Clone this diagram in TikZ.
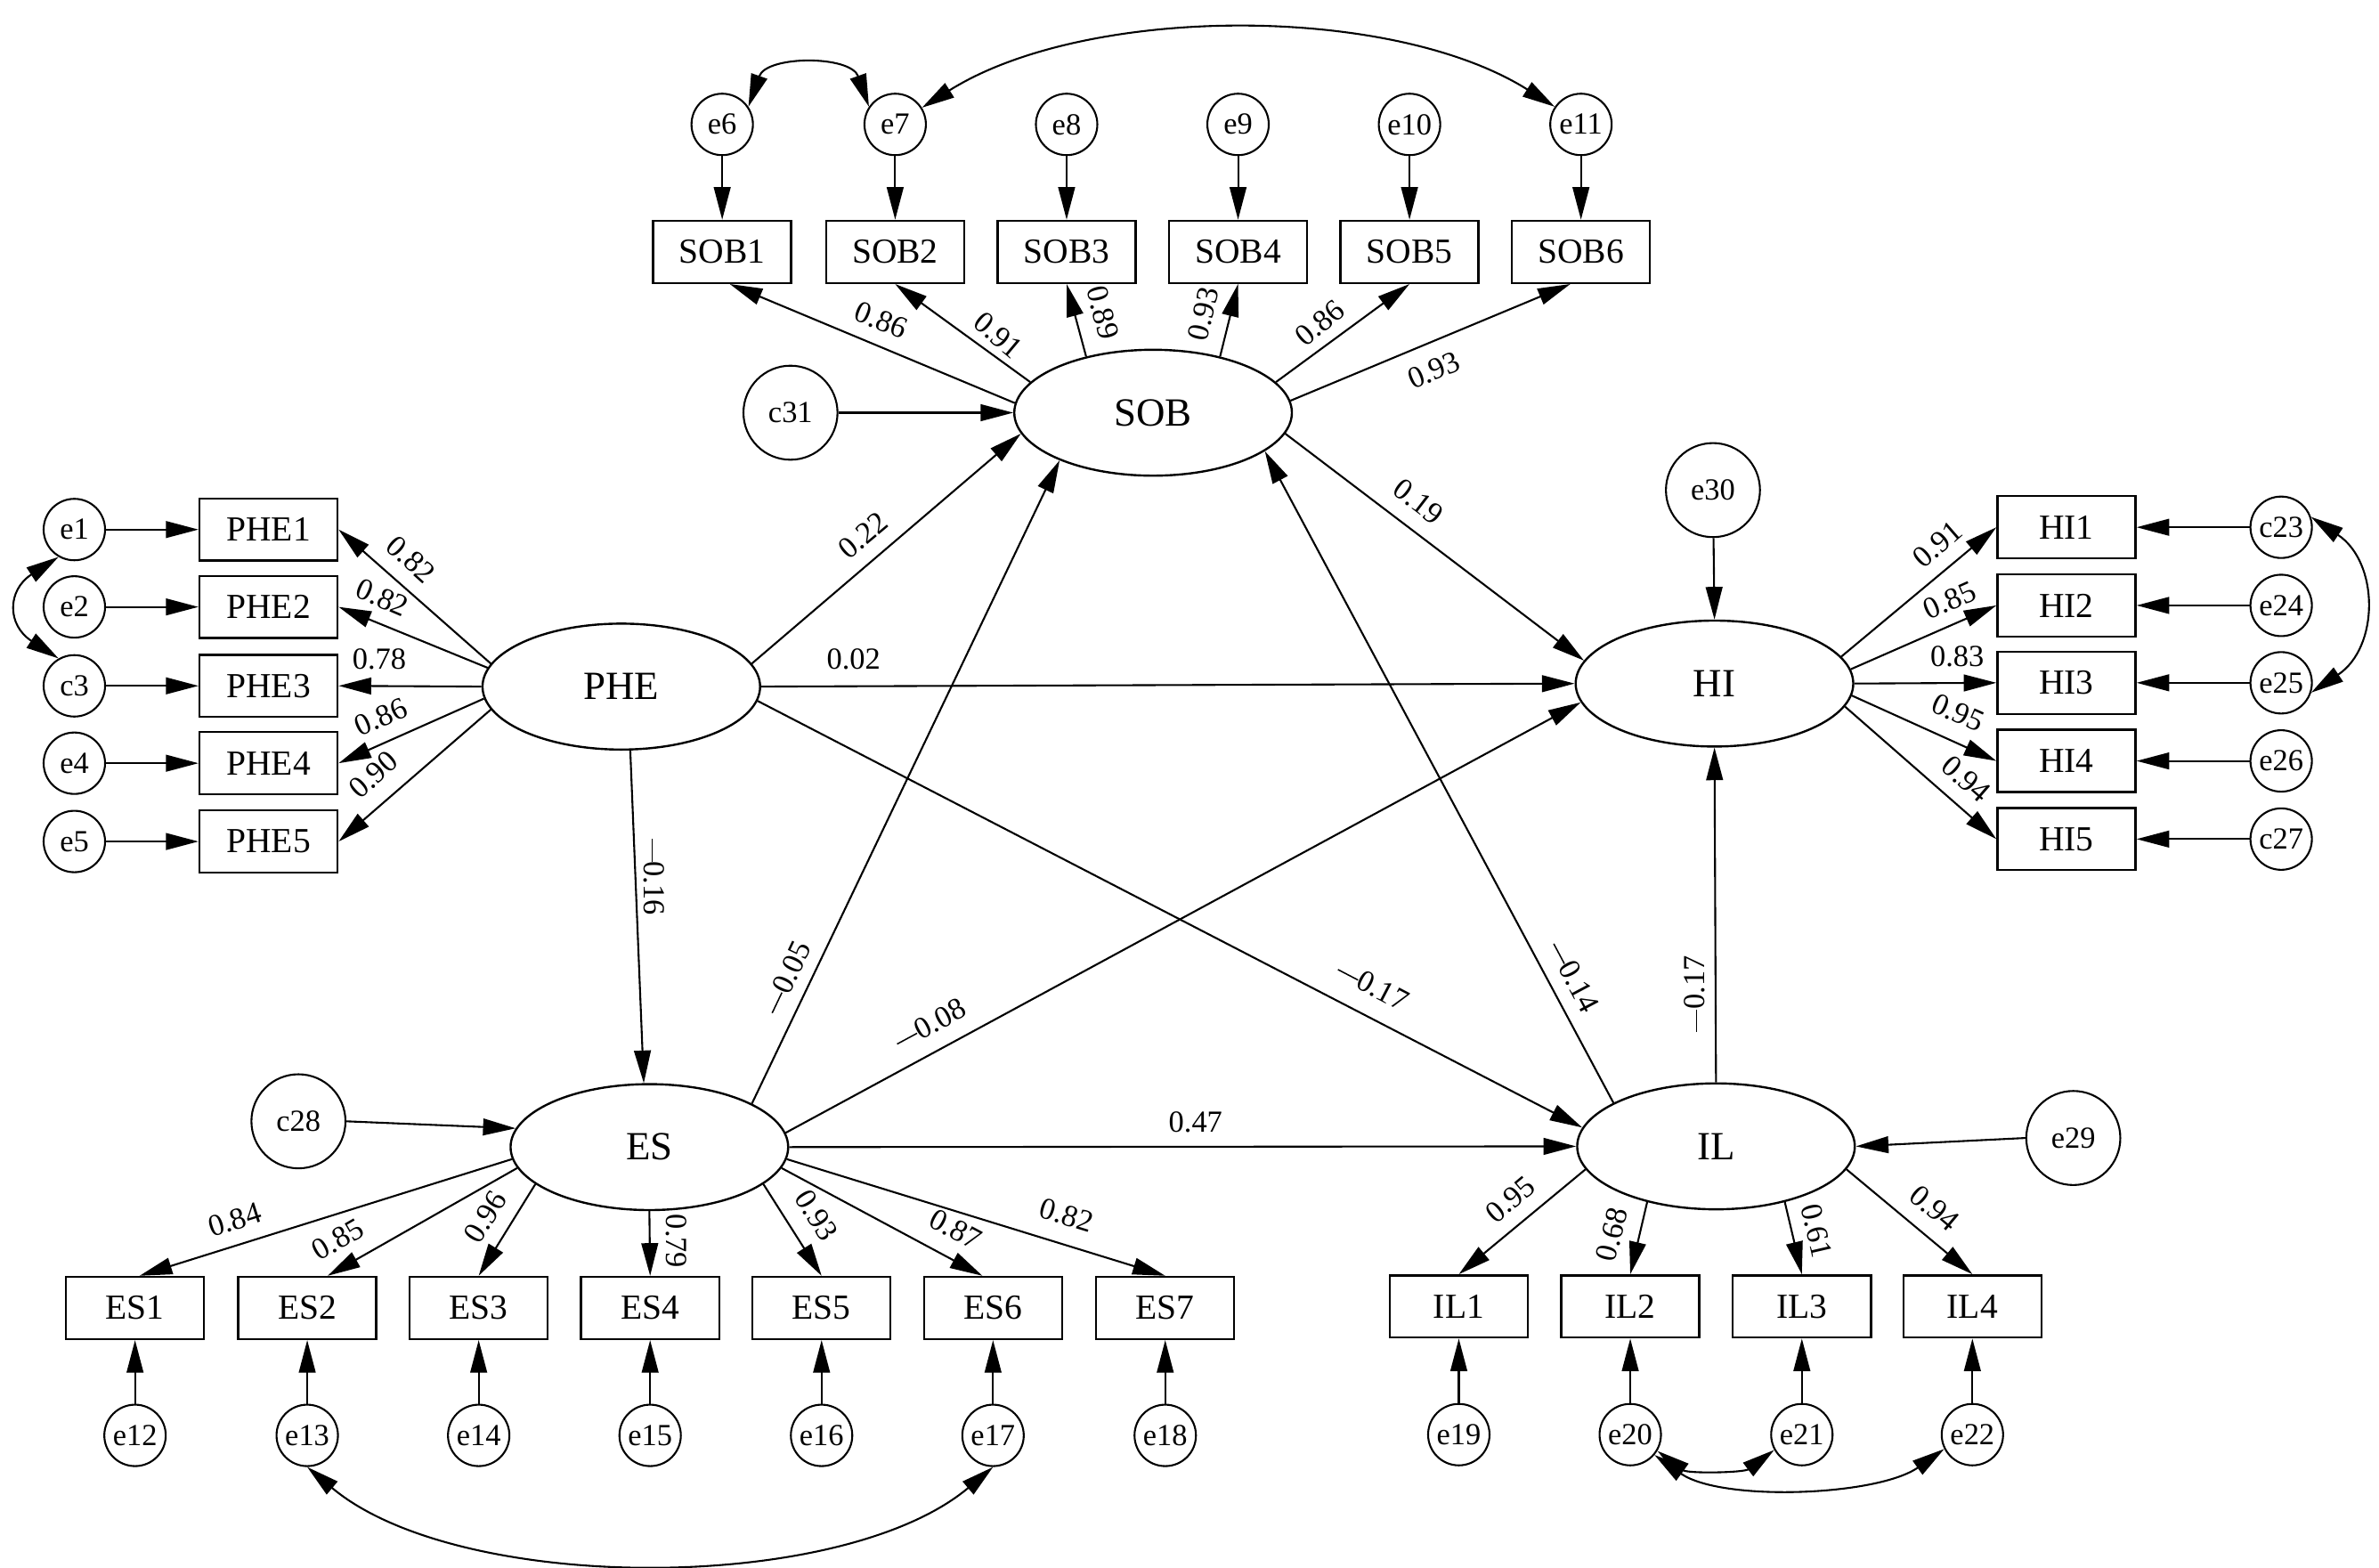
\documentclass[tikz,border=0pt]{standalone}
\usepackage{fontspec}
\setmainfont{Liberation Serif}
\usetikzlibrary{arrows.meta,shapes.geometric}
\newcommand{\mns}{\rule[0.24em]{0.74em}{0.045em}}
\begin{document}
\begin{tikzpicture}[x=0.02cm,y=0.02cm,
  lat/.style={ellipse,draw,line width=0.8pt,minimum width=3.66cm,minimum height=1.66cm,inner sep=0pt,font=\fontsize{15}{15}\selectfont},
  obs/.style={rectangle,draw,line width=0.8pt,minimum width=1.82cm,minimum height=0.82cm,inner sep=0pt,font=\fontsize{13.2}{13.2}\selectfont},
  err/.style={circle,draw,line width=0.7pt,minimum size=0.81cm,inner sep=0pt,font=\fontsize{11.5}{11.5}\selectfont},
  res/.style={circle,draw,line width=0.7pt,minimum size=1.24cm,inner sep=0pt,font=\fontsize{11.5}{11.5}\selectfont},
  lbl/.style={inner sep=0pt,font=\fontsize{11.5}{11.5}\selectfont},
  pth/.style={-{Triangle[length=4.3mm,width=2.2mm]},line width=0.7pt},
  cov/.style={{Triangle[length=4.3mm,width=2.2mm]}-{Triangle[length=4.3mm,width=2.2mm]},line width=0.7pt}
]
\useasboundingbox (0,0) rectangle (1568,-1033.4);

% latent variables
\node[lat] (SOB) at (760,-272) {SOB};
\node[lat] (PHE) at (409.5,-452.5) {PHE};
\node[lat] (HI) at (1130,-450.5) {HI};
\node[lat] (ES) at (428,-756) {ES};
\node[lat] (IL) at (1131,-755.5) {IL};

% residuals of latents
\node[res] (c31) at (521,-272) {c31};
\node[res] (e30) at (1129,-323) {e30};
\node[res] (c28) at (196.7,-739) {c28};
\node[res] (e29) at (1366.5,-750) {e29};

% SOB indicators
\foreach \i/\e/\x in {1/6/476,2/7/590,3/8/703,4/9/816,5/10/929,6/11/1042}{
  \node[obs] (SOB\i) at (\x,-166) {SOB\i};
  \node[err] (e\e) at (\x,-82) {e\e};
  \draw[pth] (e\e) -- (SOB\i);
}
% PHE indicators
\foreach \i/\y/\e in {1/-349/e1,2/-400/e2,3/-452/c3,4/-503/e4,5/-554.6/e5}{
  \node[obs] (PHE\i) at (177,\y) {PHE\i};
  \node[err] (\e) at (49,\y) {\e};
  \draw[pth] (\e) -- (PHE\i);
}
% HI indicators
\foreach \i/\y/\e in {1/-347.5/c23,2/-399/e24,3/-450/e25,4/-501.5/e26,5/-553/c27}{
  \node[obs] (HI\i) at (1362,\y) {HI\i};
  \node[err] (\e) at (1503.5,\y) {\e};
  \draw[pth] (\e) -- (HI\i);
}
% ES indicators
\foreach \i/\x/\e in {1/89/e12,2/202.5/e13,3/315.5/e14,4/428.5/e15,5/541.5/e16,6/654.5/e17,7/768/e18}{
  \node[obs] (ES\i) at (\x,-862) {ES\i};
  \node[err] (\e) at (\x,-946) {\e};
  \draw[pth] (\e) -- (ES\i);
}
% IL indicators
\foreach \i/\x/\e in {1/961.5/e19,2/1074.5/e20,3/1187.6/e21,4/1300/e22}{
  \node[obs] (IL\i) at (\x,-861) {IL\i};
  \node[err] (\e) at (\x,-945.5) {\e};
  \draw[pth] (\e) -- (IL\i);
}

% loadings SOB
\draw[pth] (SOB.176) -- ([xshift=0.1cm]SOB1.south);
\draw[pth] (SOB.166) -- (SOB2.south);
\draw[pth] (SOB.140) -- (SOB3.south);
\draw[pth] (SOB.40) -- (SOB4.south);
\draw[pth] (SOB.14) -- (SOB5.south);
\draw[pth] (SOB.5.5) -- ([xshift=-0.14cm]SOB6.south);
% loadings PHE
\draw[pth] (PHE.170) -- (PHE1.east);
\draw[pth] (PHE.172) -- (PHE2.east);
\draw[pth] (PHE.180) -- (PHE3.east);
\draw[pth] (PHE.185) -- (PHE4.east);
\draw[pth] (PHE.190) -- (PHE5.east);
% loadings HI
\draw[pth] (HI.12) -- (HI1.west);
\draw[pth] (HI.6.3) -- (HI2.west);
\draw[pth] (HI.0) -- (HI3.west);
\draw[pth] (HI.-5.4) -- (HI4.west);
\draw[pth] (HI.-10.2) -- (HI5.west);
% loadings ES
\draw[pth] (ES.185) -- ([xshift=0.06cm]ES1.north);
\draw[pth] (ES.189.6) -- ([xshift=0.27cm]ES2.north);
\draw[pth] (ES.198.4) -- (ES3.north);
\draw[pth] (ES.270) -- (ES4.north);
\draw[pth] (ES.-18) -- (ES5.north);
\draw[pth] (ES.-9.4) -- ([xshift=-0.14cm]ES6.north);
\draw[pth] (ES.-5) -- (ES7.north);
% loadings IL
\draw[pth] (IL.190) -- (IL1.north);
\draw[pth] (IL.219.8) -- (IL2.north);
\draw[pth] (IL.-39.6) -- (IL3.north);
\draw[pth] (IL.-10) -- (IL4.north);

% structural paths
\draw[pth] (c31) -- (SOB.west);
\draw[pth] (e30) -- (HI.north);
\draw[pth] (c28.east) -- (ES.172.7);
\draw[pth] (e29.west) -- (IL.east);
\draw[pth] (PHE.10.7) -- (SOB.189.5);
\draw[pth] (PHE.east) -- (HI.west);
\draw[pth] (PHE.-6) -- (IL.172.8);
\draw[pth] (PHE.-82) -- (ES.95);
\draw[pth] (ES.23.4) -- (SOB.207);
\draw[pth] (ES.6.7) -- (HI.188.5);
\draw[pth] (ES.east) -- (IL.west);
\draw[pth] (IL.157.4) -- (SOB.-19);
\draw[pth] (IL.north) -- (HI.south);
\draw[pth] (SOB.-9.6) -- (HI.170.7);

% covariances
\draw[cov] (e6.34) .. controls +(12,34) and +(-12,34) .. (e7.146);
\draw[cov] (e7.32) .. controls +(108,68) and +(-108,68) .. (e11.146);
\draw[cov] (e1.240) .. controls +(-34,-22) and +(-34,22) .. (c3.120);
\draw[cov] (c23.19) .. controls +(45,-30) and +(45,30) .. (e25.-18);
\draw[cov] (e13.south) .. controls +(100,-84) and +(-100,-84) .. (e17.south);
\draw[cov] (e20.-31) .. controls +(20,-15) and +(-20,-15) .. (e21.209);
\draw[cov] (e20.-40) .. controls +(44,-31) and +(-44,-31) .. (e22.207);

% labels SOB
\node[lbl,rotate=-22] (l1) at (581,-211) {0.86};
\node[lbl,rotate=-40] (l2) at (658,-221) {0.91};
\node[lbl,rotate=-76] (l3) at (727,-206) {0.89};
\node[lbl,rotate=77] (l4) at (793,-207) {0.93};
\node[lbl,rotate=40] (l5) at (870,-213) {0.86};
\node[lbl,rotate=23] (l6) at (945,-244) {0.93};
% labels PHE
\node[lbl,rotate=-42] (l7) at (271,-368.7) {0.82};
\node[lbl,rotate=-23] (l8) at (252,-394) {0.82};
\node[lbl] (l9) at (250,-434.3) {0.78};
\node[lbl,rotate=24] (l10) at (251,-472.4) {0.86};
\node[lbl,rotate=42] (l11) at (246,-510.6) {0.90};
% labels HI
\node[lbl,rotate=41] (l12) at (1277,-358.6) {0.91};
\node[lbl,rotate=24] (l13) at (1285,-395.6) {0.85};
\node[lbl] (l14) at (1290,-432.5) {0.83};
\node[lbl,rotate=-24] (l15) at (1290.6,-469.7) {0.95};
\node[lbl,rotate=-41] (l16) at (1296,-513.5) {0.94};
% labels ES
\node[lbl,rotate=17.5] (l17) at (154.7,-804) {0.84};
\node[lbl,rotate=30] (l18) at (222.6,-816.8) {0.85};
\node[lbl,rotate=58] (l19) at (320,-802) {0.96};
\node[lbl,rotate=-90] (l20) at (446,-818) {0.79};
\node[lbl,rotate=-58] (l21) at (538,-801) {0.93};
\node[lbl,rotate=-28] (l22) at (629.8,-810) {0.87};
\node[lbl,rotate=-17] (l23) at (703,-800.8) {0.82};
% labels IL
\node[lbl,rotate=40] (l24) at (995.3,-790.5) {0.95};
\node[lbl,rotate=76] (l25) at (1062.3,-813.4) {0.68};
\node[lbl,rotate=-77] (l26) at (1197.2,-811) {0.61};
\node[lbl,rotate=-40] (l27) at (1275,-796.3) {0.94};
% labels structural
\node[lbl,rotate=40] (l28) at (568.7,-353) {0.22};
\node[lbl] (l29) at (562.6,-434.3) {0.02};
\node[lbl,rotate=-37.5] (l30) at (935,-330.6) {0.19};
\node[lbl,rotate=-90] (l31) at (431,-578) {\mns0.16};
\node[lbl,rotate=64.5] (l32) at (518.6,-644.4) {\mns0.05};
\node[lbl,rotate=28.4] (l33) at (612.8,-675) {\mns0.08};
\node[lbl,rotate=-27.6] (l34) at (904.7,-649.5) {\mns0.17};
\node[lbl] (l35) at (788,-739.5) {0.47};
\node[lbl,rotate=-62] (l36) at (1037,-643.6) {\mns0.14};
\node[lbl,rotate=90] (l37) at (1117,-655) {\mns0.17};
\end{tikzpicture}
\end{document}
